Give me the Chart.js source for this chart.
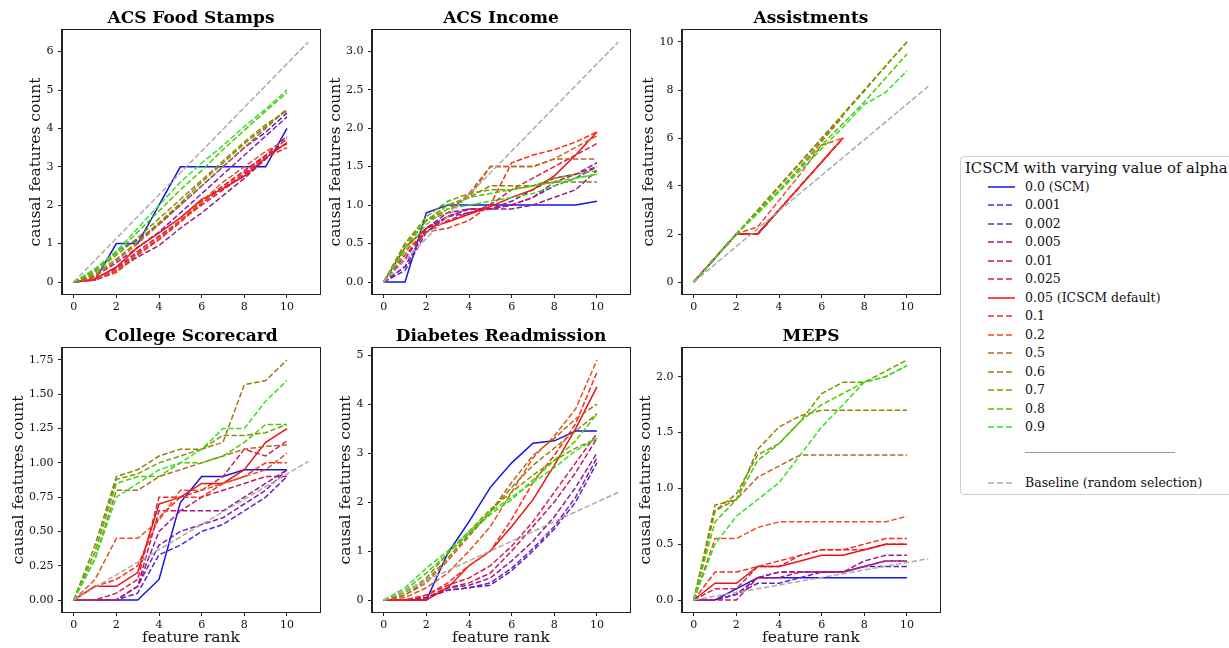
<!DOCTYPE html>
<html>
<head>
<meta charset="utf-8">
<script src="https://cdn.jsdelivr.net/npm/chart.js@4.4.1/dist/chart.umd.min.js"></script>
<style>
  body { margin: 0; background: #fff; width: 1229px; height: 648px; overflow: hidden; position: relative; font-family: 'DejaVu Serif', serif; }
  .panel { position: absolute; }
  #legend { position: absolute; left: 960px; top: 156px; width: 300px; height: 337px; border: 1px solid #cfcfcf; border-radius: 4px; color: #111; }
  #legend .lg-title { position: absolute; left: 4px; top: 1px; height: 20px; line-height: 20px; font-size: 14.8px; white-space: nowrap; }
  #legend .lg-row { position: absolute; left: 0; height: 18px; line-height: 18px; font-size: 12.5px; white-space: nowrap; }
  #legend .lg-row svg { position: absolute; left: 27px; top: 7px; }
  #legend .lg-row span { position: absolute; left: 64px; top: 0; }
  #legend .lg-sep { position: absolute; left: 64px; width: 150px; top: 295px; border-top: 1px solid #999; }
</style>
</head>
<body>
<div id="legend"><div class="lg-title">ICSCM with varying value of alpha</div></div>
<script>
// feature rank positions shared by every panel
const RANKS = [0, 1, 2, 3, 4, 5, 6, 7, 8, 9, 10];

const ALPHAS = ['0.0 (SCM)', '0.001', '0.002', '0.005', '0.01', '0.025', '0.05 (ICSCM default)',
  '0.1', '0.2', '0.5', '0.6', '0.7', '0.8', '0.9'];
const COLORS = ['#1414e6', '#5a1fd6', '#7a1fb4', '#961c8c', '#c41464', '#d4204a', '#f01010',
  '#ff2a14', '#e8501a', '#b8661e', '#9a7c0c', '#7a9a00', '#4ec800', '#34e02a'];
const SOLID = [true, false, false, false, false, false, true, false, false, false, false, false, false, false];

const BASELINE_LABEL = 'Baseline (random selection)';
const BASELINE_COLOR = '#aaaaaa';
const BASELINE_RANK = 11;

// one row per alpha, in the order of ALPHAS
const FOOD_STAMPS = [
  [0, 0.05, 1, 1, 2, 3, 3, 3, 3, 3, 4],
  [0, 0.3, 0.8, 1.1, 1.5, 2.0, 2.5, 3.0, 3.5, 3.9, 4.4],
  [0, 0.15, 0.5, 0.9, 1.3, 1.8, 2.3, 2.8, 3.3, 3.8, 4.3],
  [0, 0.05, 0.3, 0.65, 0.95, 1.4, 1.8, 2.25, 2.7, 3.2, 3.75],
  [0, 0.1, 0.35, 0.8, 1.2, 1.6, 2.1, 2.5, 2.9, 3.3, 3.8],
  [0, 0.1, 0.3, 0.75, 1.1, 1.6, 2.0, 2.4, 2.8, 3.3, 3.6],
  [0, 0.08, 0.39, 0.9, 1.28, 1.67, 2.15, 2.43, 2.76, 3.23, 3.63],
  [0, 0.05, 0.25, 0.7, 1.1, 1.55, 2.05, 2.45, 2.85, 3.25, 3.5],
  [0, 0.1, 0.3, 0.75, 1.15, 1.6, 2.1, 2.6, 3.0, 3.4, 3.7],
  [0, 0.15, 0.55, 1.0, 1.5, 2.0, 2.5, 3.0, 3.5, 4.0, 4.5],
  [0, 0.2, 0.6, 1.05, 1.55, 2.05, 2.6, 3.1, 3.6, 4.05, 4.5],
  [0, 0.25, 0.7, 1.15, 1.65, 2.15, 2.65, 3.15, 3.65, 4.1, 4.45],
  [0, 0.3, 0.75, 1.3, 1.85, 2.4, 2.9, 3.45, 3.95, 4.45, 4.93],
  [0, 0.35, 0.8, 1.4, 2.0, 2.6, 3.1, 3.55, 4.05, 4.5, 5.0]
];
const ACS_INCOME = [
  [0, 0, 0.9, 1, 1, 1, 1, 1, 1, 1, 1.05],
  [0, 0.15, 0.65, 0.85, 0.9, 0.95, 1.0, 1.1, 1.25, 1.35, 1.5],
  [0, 0.2, 0.7, 0.85, 0.95, 0.95, 1.05, 1.2, 1.35, 1.4, 1.55],
  [0, 0.2, 0.7, 0.9, 0.95, 0.95, 0.95, 1.0, 1.1, 1.2, 1.45],
  [0, 0.3, 0.7, 0.85, 0.95, 0.95, 1.0, 1.1, 1.3, 1.4, 1.5],
  [0, 0.35, 0.65, 0.8, 0.9, 1.0, 1.2, 1.35, 1.5, 1.65, 1.8],
  [0, 0.45, 0.7, 0.78, 0.88, 0.98, 1.1, 1.2, 1.38, 1.65, 1.95],
  [0, 0.4, 0.65, 0.7, 0.8, 1.0, 1.55, 1.65, 1.72, 1.82, 1.95],
  [0, 0.45, 0.8, 0.9, 1.15, 1.5, 1.5, 1.5, 1.6, 1.75, 1.9],
  [0, 0.45, 0.8, 0.95, 1.1, 1.5, 1.5, 1.5, 1.6, 1.6, 1.6],
  [0, 0.5, 0.8, 1.0, 1.1, 1.25, 1.25, 1.25, 1.3, 1.3, 1.3],
  [0, 0.5, 0.85, 1.05, 1.15, 1.2, 1.2, 1.25, 1.35, 1.4, 1.45],
  [0, 0.45, 0.8, 1.0, 1.1, 1.15, 1.2, 1.25, 1.3, 1.35, 1.4],
  [0, 0.4, 0.75, 0.95, 1.0, 1.05, 1.1, 1.15, 1.25, 1.35, 1.4]
];
const ASSISTMENTS = [
  [0, 1, 2, 2, 3],
  [0, 1, 2, 2, 3],
  [0, 1, 2, 2, 3],
  [0, 1, 2, 2, 3],
  [0, 1, 2, 2, 3, 4, 5, 6],
  [0, 1, 2, 2, 3, 4, 5, 6],
  [0, 1, 2, 2, 3, 4, 5, 6],
  [0, 1, 2, 2, 3, 4, 5, 6],
  [0, 1, 2, 2.3, 3.4, 4.5, 5.7, 6.0],
  [0, 1, 2, 2.85, 3.8, 4.8, 5.85, 6.9],
  [0, 1, 2, 3, 4, 5, 6, 7, 8, 9, 10],
  [0, 1, 2, 2.95, 3.95, 4.95, 5.95, 6.95, 7.95, 9.0, 10.0],
  [0, 1, 2, 2.9, 3.8, 4.75, 5.7, 6.6, 7.5, 8.5, 9.5],
  [0, 1, 2, 2.85, 3.75, 4.65, 5.55, 6.45, 7.4, 7.9, 8.8]
];
const COLLEGE = [
  [0, 0, 0, 0, 0.15, 0.71, 0.9, 0.9, 0.95, 0.95, 0.95],
  [0, 0, 0, 0.05, 0.33, 0.4, 0.5, 0.55, 0.65, 0.75, 0.9],
  [0, 0, 0, 0.1, 0.4, 0.5, 0.55, 0.6, 0.7, 0.8, 0.95],
  [0, 0, 0, 0.1, 0.5, 0.65, 0.65, 0.65, 0.75, 0.85, 0.95],
  [0, 0, 0, 0.1, 0.65, 0.65, 0.75, 0.8, 0.85, 0.9, 0.9],
  [0, 0, 0.05, 0.15, 0.75, 0.75, 0.8, 0.9, 1.1, 1.05, 1.16],
  [0, 0.1, 0.1, 0.2, 0.7, 0.75, 0.85, 0.85, 0.95, 1.15, 1.25],
  [0, 0.1, 0.15, 0.25, 0.6, 0.75, 0.75, 0.85, 0.9, 1.0, 1.0],
  [0, 0.15, 0.45, 0.45, 0.58, 0.8, 0.8, 0.85, 0.9, 0.95, 1.07],
  [0, 0.3, 0.8, 0.8, 0.9, 0.95, 1.0, 1.05, 1.1, 1.12, 1.13],
  [0, 0.4, 0.9, 0.95, 1.05, 1.1, 1.1, 1.15, 1.57, 1.6, 1.75],
  [0, 0.35, 0.88, 0.92, 1.0, 1.05, 1.1, 1.2, 1.2, 1.22, 1.28],
  [0, 0.35, 0.85, 0.9, 0.9, 1.0, 1.0, 1.05, 1.15, 1.28, 1.28],
  [0, 0.3, 0.75, 0.85, 0.95, 1.0, 1.1, 1.25, 1.25, 1.45, 1.6]
];
const DIABETES = [
  [0, 0, 0, 0.95, 1.6, 2.3, 2.8, 3.2, 3.25, 3.45, 3.45],
  [0, 0, 0.05, 0.2, 0.25, 0.3, 0.6, 1.0, 1.45, 2.0, 2.8],
  [0, 0, 0.05, 0.2, 0.25, 0.35, 0.65, 1.05, 1.5, 2.1, 2.9],
  [0, 0, 0.05, 0.25, 0.3, 0.45, 0.8, 1.2, 1.7, 2.3, 3.0],
  [0, 0, 0.05, 0.25, 0.35, 0.55, 1.0, 1.5, 2.0, 2.6, 3.3],
  [0, 0, 0.1, 0.3, 0.45, 0.7, 1.1, 1.6, 2.2, 2.8, 3.4],
  [0, 0, 0, 0.25, 0.7, 1.0, 1.5, 2.05, 2.75, 3.5, 4.35],
  [0, 0, 0.1, 0.35, 0.7, 1.0, 1.65, 2.4, 2.95, 3.6, 4.65],
  [0, 0.05, 0.25, 0.55, 1.0, 1.5, 2.2, 2.9, 3.35, 3.9, 4.9],
  [0, 0.1, 0.35, 0.8, 1.3, 1.8, 2.4, 2.95, 3.3, 3.7, 4.0],
  [0, 0.1, 0.4, 0.85, 1.35, 1.8, 2.3, 2.75, 3.1, 3.45, 3.8],
  [0, 0.15, 0.45, 0.95, 1.4, 1.85, 2.2, 2.55, 2.85, 3.1, 3.3],
  [0, 0.2, 0.55, 0.95, 1.35, 1.75, 2.05, 2.45, 2.85, 3.25, 3.8],
  [0, 0.25, 0.65, 1.0, 1.4, 1.8, 2.1, 2.4, 2.7, 3.05, 3.3]
];
const MEPS = [
  [0, 0, 0.1, 0.2, 0.2, 0.2, 0.2, 0.2, 0.2, 0.2, 0.2],
  [0, 0, 0.05, 0.15, 0.15, 0.2, 0.25, 0.25, 0.3, 0.3, 0.3],
  [0, 0, 0.05, 0.2, 0.25, 0.25, 0.25, 0.25, 0.3, 0.35, 0.35],
  [0, 0, 0.05, 0.2, 0.25, 0.25, 0.25, 0.25, 0.35, 0.4, 0.4],
  [0, 0, 0, 0.2, 0.2, 0.25, 0.25, 0.25, 0.3, 0.35, 0.35],
  [0, 0.1, 0.1, 0.3, 0.3, 0.4, 0.45, 0.45, 0.45, 0.5, 0.5],
  [0, 0.15, 0.15, 0.3, 0.3, 0.35, 0.4, 0.4, 0.45, 0.5, 0.5],
  [0, 0.25, 0.25, 0.3, 0.35, 0.4, 0.45, 0.45, 0.5, 0.55, 0.55],
  [0, 0.55, 0.55, 0.65, 0.7, 0.7, 0.7, 0.7, 0.7, 0.7, 0.75],
  [0, 0.8, 0.9, 1.1, 1.2, 1.3, 1.3, 1.3, 1.3, 1.3, 1.3],
  [0, 0.85, 0.9, 1.35, 1.55, 1.65, 1.7, 1.7, 1.7, 1.7, 1.7],
  [0, 0.8, 0.95, 1.3, 1.4, 1.6, 1.85, 1.95, 1.95, 2.05, 2.15],
  [0, 0.7, 0.9, 1.25, 1.4, 1.6, 1.75, 1.85, 1.95, 2.0, 2.1],
  [0, 0.5, 0.75, 0.9, 1.05, 1.3, 1.55, 1.75, 1.95, 2.0, 2.1]
];

const TITLES = ['ACS Food Stamps', 'ACS Income', 'Assistments', 'College Scorecard', 'Diabetes Readmission', 'MEPS'];
const SERIES = [FOOD_STAMPS, ACS_INCOME, ASSISTMENTS, COLLEGE, DIABETES, MEPS];
// random-selection baseline value reached at rank 11
const BASELINE_END = [6.25, 3.12, 8.15, 1.01, 2.2, 0.37];
const Y_STEP = [1, 0.5, 2, 0.25, 1, 0.5];
const Y_DECIMALS = [0, 1, 0, 2, 0, 1];

// layout of the 2x3 grid (page pixels)
const BOX_LEFT = [62, 372, 682];
const BOX_TOP = [30, 348];
const BOX_W = 258, BOX_H = 264;
const AXIS_W = 62, TITLE_H = 30, RIGHT_PAD = 6;
const YLABEL_X = [36, 25.5, 29, 18.5, 36, 25.5];
const FONT = "'DejaVu Serif', serif";
const INK = '#111';

const framePlugin = {
  id: 'frame',
  afterDraw(chart) {
    const { ctx, chartArea: a } = chart;
    ctx.save();
    ctx.strokeStyle = '#222';
    ctx.lineWidth = 1;
    ctx.strokeRect(a.left - 0.5, a.top - 0.5, a.right - a.left + 1, a.bottom - a.top + 1);
    ctx.restore();
  }
};

function yRange(rows, baseEnd) {
  let hi = baseEnd;
  rows.forEach((r) => r.forEach((v) => { if (v > hi) hi = v; }));
  const pad = hi * 0.05;
  return [-pad, hi + pad];
}

function buildPanel(idx) {
  const col = idx % 3, row = Math.floor(idx / 3);
  const bottomH = row === 0 ? 28 : 36;
  const w = AXIS_W + BOX_W + RIGHT_PAD;
  const h = TITLE_H + BOX_H + bottomH;

  const wrap = document.createElement('div');
  wrap.className = 'panel';
  wrap.style.left = (BOX_LEFT[col] - AXIS_W) + 'px';
  wrap.style.top = (BOX_TOP[row] - TITLE_H) + 'px';
  const canvas = document.createElement('canvas');
  canvas.width = w;
  canvas.height = h;
  wrap.appendChild(canvas);
  document.body.appendChild(wrap);

  const rows = SERIES[idx];
  const [ymin, ymax] = yRange(rows, BASELINE_END[idx]);

  const datasets = rows.map((vals, i) => ({
    label: ALPHAS[i],
    data: vals.map((v, k) => ({ x: RANKS[k], y: v })),
    borderColor: COLORS[i],
    borderWidth: 1.5,
    borderDash: SOLID[i] ? [] : [5.5, 2.4],
    pointRadius: 0,
    tension: 0,
    order: -i
  }));
  datasets.push({
    label: BASELINE_LABEL,
    data: [{ x: 0, y: 0 }, { x: BASELINE_RANK, y: BASELINE_END[idx] }],
    borderColor: BASELINE_COLOR,
    borderWidth: 1.5,
    borderDash: [5.5, 2.4],
    pointRadius: 0,
    order: -20
  });

  new Chart(canvas, {
    type: 'line',
    data: { datasets },
    plugins: [framePlugin],
    options: {
      responsive: false,
      animation: false,
      devicePixelRatio: 1,
      layout: { padding: { left: 0, right: RIGHT_PAD, top: 0, bottom: 0 } },
      plugins: {
        legend: { display: false },
        tooltip: { enabled: false },
        title: {
          display: true,
          text: TITLES[idx],
          fullSize: false,
          color: '#000',
          font: { family: FONT, size: 17, weight: 'bold', lineHeight: 1.2 },
          padding: { top: 8, bottom: 1.6 }
        }
      },
      scales: {
        x: {
          type: 'linear',
          min: -0.55,
          max: 11.55,
          ticks: { stepSize: 2, includeBounds: false, color: INK, padding: 3, maxRotation: 0, font: { family: FONT, size: 11 } },
          grid: { drawOnChartArea: false, tickLength: 4, color: '#222' },
          border: { color: '#222' },
          title: {
            display: row === 1,
            text: 'feature rank',
            color: INK,
            font: { family: FONT, size: 15.5, lineHeight: 1.2 },
            padding: { top: 0, bottom: 1 }
          },
          afterFit(s) { s.height = bottomH; }
        },
        y: {
          type: 'linear',
          min: ymin,
          max: ymax,
          ticks: {
            stepSize: Y_STEP[idx],
            includeBounds: false,
            color: INK,
            padding: 4.5,
            font: { family: FONT, size: 11 },
            callback: (v) => Number(v).toFixed(Y_DECIMALS[idx])
          },
          grid: { drawOnChartArea: false, tickLength: 4, color: '#222' },
          border: { color: '#222' },
          title: {
            display: true,
            text: 'causal features count',
            color: INK,
            font: { family: FONT, size: 15.5, lineHeight: 1.2 },
            padding: { top: YLABEL_X[idx] - 9.3, bottom: 0 }
          },
          afterFit(s) { s.width = AXIS_W; }
        }
      }
    }
  });
}

for (let i = 0; i < TITLES.length; i++) buildPanel(i);

// legend built from the same series names and colours
function legendRow(label, color, solid, top) {
  const row = document.createElement('div');
  row.className = 'lg-row';
  row.style.top = top + 'px';
  const dash = solid ? '' : ' stroke-dasharray="6 3"';
  row.innerHTML = '<svg width="27" height="4"><line x1="0" y1="2" x2="27" y2="2" stroke="' + color +
    '" stroke-width="1.5"' + dash + '/></svg><span>' + label + '</span>';
  return row;
}
const legend = document.getElementById('legend');
ALPHAS.forEach((a, i) => legend.appendChild(legendRow(a, COLORS[i], SOLID[i], 20.7 + 18.5 * i)));
const sep = document.createElement('div');
sep.className = 'lg-sep';
legend.appendChild(sep);
legend.appendChild(legendRow(BASELINE_LABEL, BASELINE_COLOR, false, 316.7));
</script>
</body>
</html>
